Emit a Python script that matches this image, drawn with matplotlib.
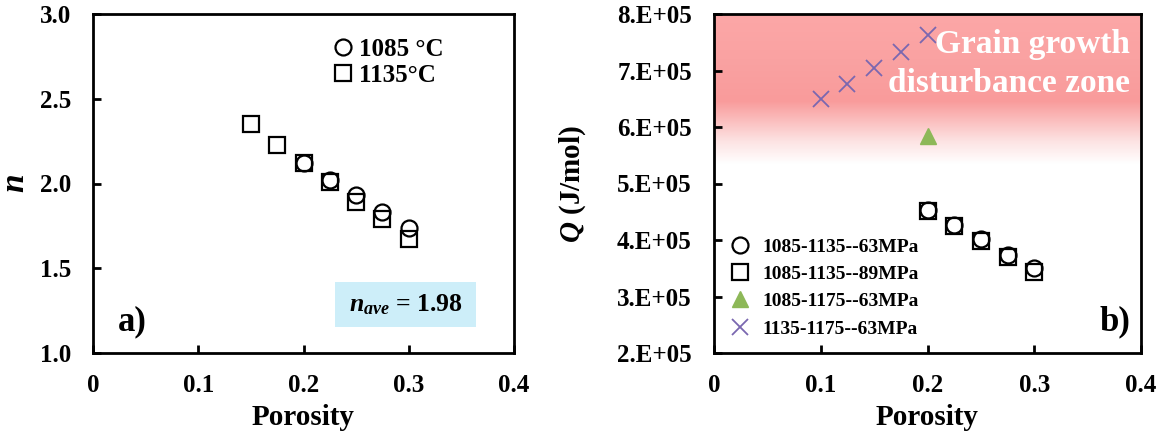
import matplotlib

matplotlib.use("Agg")

import matplotlib.pyplot as plt
import numpy as np
from matplotlib.colors import LinearSegmentedColormap
from matplotlib.patches import Rectangle
from matplotlib.ticker import FuncFormatter

plt.rcParams["font.family"] = ["Liberation Serif", "DejaVu Serif"]
plt.rcParams["font.weight"] = "bold"
plt.rcParams["mathtext.fontset"] = "custom"
plt.rcParams["mathtext.rm"] = "Liberation Serif:bold"
plt.rcParams["mathtext.it"] = "Liberation Serif:bold:italic"
plt.rcParams["mathtext.bf"] = "Liberation Serif:bold"

# panel a) stress exponent n vs porosity
por_1085 = [0.2, 0.225, 0.25, 0.275, 0.3]
n_1085 = [2.12, 2.02, 1.93, 1.83, 1.74]
por_1135 = [0.15, 0.175, 0.2, 0.225, 0.25, 0.275, 0.3]
n_1135 = [2.35, 2.23, 2.12, 2.01, 1.89, 1.79, 1.67]
n_ave = 1.98

# panel b) activation energy Q vs porosity
por_q = [0.2, 0.225, 0.25, 0.275, 0.3]
q_63 = [4.53e5, 4.26e5, 4.01e5, 3.73e5, 3.51e5]
q_89 = [4.52e5, 4.24e5, 3.98e5, 3.70e5, 3.44e5]
por_1175_63 = [0.2]
q_1175_63 = [5.84e5]
por_cross = [0.1, 0.125, 0.15, 0.175, 0.2]
q_cross = [6.49e5, 6.76e5, 7.04e5, 7.33e5, 7.63e5]

W, H = 1158, 437
fig = plt.figure(figsize=(W / 100, H / 100), dpi=100)
ax1 = fig.add_axes([93 / W, 1 - 353 / H, 421 / W, 339 / H])
ax2 = fig.add_axes([714 / W, 1 - 353 / H, 427 / W, 339 / H])

mk = dict(linestyle="none", markerfacecolor="none", markeredgecolor="black",
          markeredgewidth=1.6, markersize=11.5)

# ---- panel a
ax1.plot(por_1085, n_1085, marker="o", label="1085 °C", **mk)
ax1.plot(por_1135, n_1135, marker="s", label="1135°C", **mk)
ax1.set_xlim(0, 0.4)
ax1.set_ylim(1.0, 3.0)
ax1.set_xticks([0, 0.1, 0.2, 0.3, 0.4])
ax1.set_yticks([1.0, 1.5, 2.0, 2.5, 3.0])
ax1.xaxis.set_major_formatter(FuncFormatter(lambda v, p: "0" if v == 0 else f"{v:.1f}"))
ax1.yaxis.set_major_formatter(FuncFormatter(lambda v, p: f"{v:.1f}"))
ax1.set_xlabel("Porosity", fontsize=21, fontweight="bold")
ax1.xaxis.set_label_coords(0.5, -0.15)
ax1.set_ylabel(r"$n$", fontsize=24)
ax1.yaxis.set_label_coords(-0.148, 0.5)
ax1.legend(loc="upper left", bbox_to_anchor=(334 / W, 1 - 38 / H),
           bbox_transform=fig.transFigure, frameon=False, fontsize=18,
           handlelength=0.7, handletextpad=0.3, labelspacing=0.1, borderpad=0,
           borderaxespad=0)
ax1.text(0.058, 0.068, "a)", transform=ax1.transAxes, fontsize=25,
         fontweight="bold", va="baseline")
ax1.add_patch(Rectangle((0.575, 0.077), 0.335, 0.133, transform=ax1.transAxes,
                        facecolor="#cdeef9", edgecolor="none", zorder=1))
ax1.text(0.7425, 0.143, r"$n_{ave}$" + f" = {n_ave:.2f}", transform=ax1.transAxes,
         fontsize=18.5, fontweight="bold", ha="center", va="center", zorder=2)

# ---- panel b
grad = np.linspace(0, 1, 256).reshape(-1, 1)
pink = LinearSegmentedColormap.from_list(
    "zone", [(0.0, "#ffffff"), (0.15, "#fde3e3"), (0.42, "#f99b9b"),
             (0.7, "#faa2a2"), (1.0, "#fca7a7")])
ax2.imshow(grad, cmap=pink, aspect="auto", extent=(0, 0.4, 5.35e5, 8e5),
           origin="lower", zorder=0)

ax2.plot(por_q, q_63, marker="o", label="1085-1135--63MPa", **mk)
ax2.plot(por_q, q_89, marker="s", label="1085-1135--89MPa", **mk)
ax2.plot(por_1175_63, q_1175_63, linestyle="none", marker="^", color="#8db858",
         markersize=12, label="1085-1175--63MPa")
ax2.plot(por_cross, q_cross, linestyle="none", marker="x", color="#7a67b0",
         markersize=11, markeredgewidth=1.3, label="1135-1175--63MPa")
ax2.set_xlim(0, 0.4)
ax2.set_ylim(2e5, 8e5)
ax2.set_xticks([0, 0.1, 0.2, 0.3, 0.4])
ax2.set_yticks(np.arange(2e5, 8.01e5, 1e5))
ax2.xaxis.set_major_formatter(FuncFormatter(lambda v, p: "0" if v == 0 else f"{v:.1f}"))
ax2.yaxis.set_major_formatter(FuncFormatter(lambda v, p: f"{v / 1e5:.0f}.E+05"))
ax2.set_xlabel("Porosity", fontsize=21, fontweight="bold")
ax2.xaxis.set_label_coords(0.5, -0.15)
ax2.set_ylabel(r"$Q$ (J/mol)", fontsize=21, fontweight="bold")
ax2.yaxis.set_label_coords(-0.295, 0.5)
ax2.legend(loc="upper left", bbox_to_anchor=(729 / W, 1 - 238 / H),
           bbox_transform=fig.transFigure, frameon=False, fontsize=14,
           handlelength=1.1, handletextpad=0.6, labelspacing=0.5, borderpad=0,
           borderaxespad=0)
ax2.text(0.974, 0.885, "Grain growth", transform=ax2.transAxes, fontsize=24,
         fontweight="bold", color="white", ha="right", va="baseline")
ax2.text(0.974, 0.770, "disturbance zone", transform=ax2.transAxes, fontsize=24,
         fontweight="bold", color="white", ha="right", va="baseline")
ax2.text(0.974, 0.068, "b)", transform=ax2.transAxes, fontsize=25,
         fontweight="bold", ha="right", va="baseline")

for ax in (ax1, ax2):
    ax.tick_params(direction="in", length=6, width=2, labelsize=18)
    ax.tick_params(axis="x", pad=15)
    ax.tick_params(axis="y", pad=16)
    for lab in ax.get_xticklabels() + ax.get_yticklabels():
        lab.set_fontweight("bold")
    for sp in ax.spines.values():
        sp.set_linewidth(2)

fig.savefig("out.png", dpi=100)
